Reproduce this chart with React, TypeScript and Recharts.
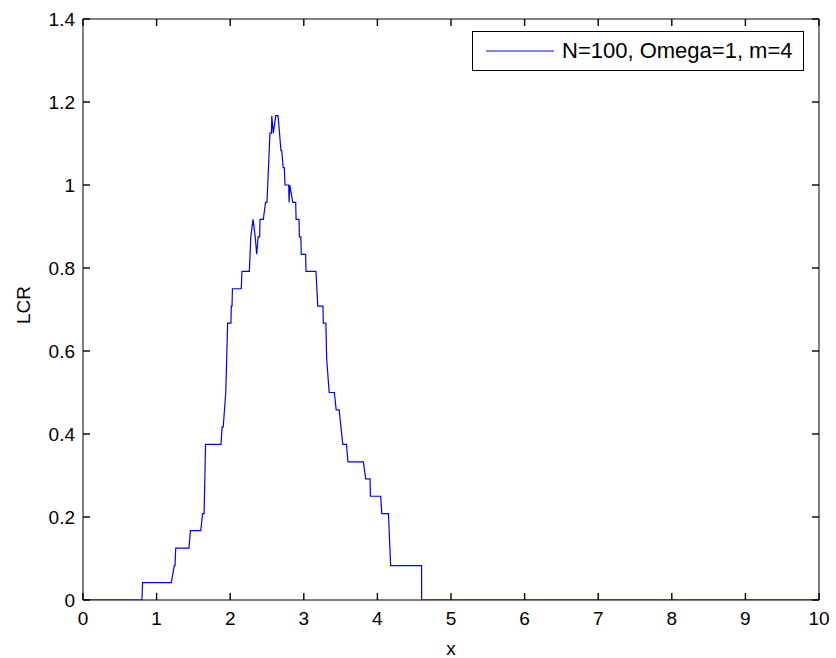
import { LineChart, Line, XAxis, YAxis } from 'recharts';

// sample points (x, LCR)
const xValues = [
  0, 0.8, 0.81, 1.2, 1.24, 1.25, 1.26, 1.44, 1.46, 1.6, 1.625, 1.645, 1.665, 1.875, 1.89, 1.905,
  1.94, 1.965, 2.01, 2.015, 2.025, 2.03, 2.15, 2.16, 2.26, 2.28, 2.31, 2.34, 2.36, 2.38, 2.4,
  2.405, 2.45, 2.48, 2.5, 2.54, 2.56, 2.565, 2.585, 2.62, 2.65, 2.67, 2.69, 2.7, 2.72, 2.735,
  2.745, 2.795, 2.8, 2.81, 2.85, 2.89, 2.895, 2.935, 2.94, 2.96, 2.965, 3.025, 3.03, 3.165,
  3.19, 3.26, 3.265, 3.3, 3.31, 3.345, 3.415, 3.44, 3.48, 3.53, 3.58, 3.6, 3.81, 3.84, 3.9,
  3.905, 4.045, 4.06, 4.15, 4.18, 4.6, 4.601, 10,
];
const lcrValues = [
  0, 0, 0.042, 0.042, 0.083, 0.083, 0.125, 0.125, 0.167, 0.167, 0.208, 0.208, 0.375, 0.375, 0.417, 0.417,
  0.5, 0.667, 0.667, 0.708, 0.708, 0.75, 0.75, 0.792, 0.792, 0.875, 0.917, 0.875, 0.833, 0.875, 0.875,
  0.917, 0.917, 0.958, 0.958, 1.125, 1.125, 1.167, 1.125, 1.167, 1.167, 1.125, 1.083, 1.083, 1.042, 1.042,
  1.0, 1.0, 0.958, 1.0, 0.958, 0.958, 0.917, 0.917, 0.875, 0.875, 0.833, 0.833, 0.792, 0.792,
  0.708, 0.708, 0.667, 0.667, 0.583, 0.5, 0.5, 0.458, 0.458, 0.375, 0.375, 0.333, 0.333, 0.292, 0.292,
  0.25, 0.25, 0.208, 0.208, 0.083, 0.083, 0, 0,
];

const xTicks = [0, 1, 2, 3, 4, 5, 6, 7, 8, 9, 10];
const yTicks = [0, 0.2, 0.4, 0.6, 0.8, 1, 1.2, 1.4];
const seriesName = 'N=100, Omega=1, m=4';

const data = xValues.map((x, i) => ({ x, lcr: lcrValues[i] }));

const FONT = '"Liberation Sans", Arial, sans-serif';
const TICK_LEN = 7;
const TICK_W = 1.4;
const BOTTOM_GAP = 12;
const LEFT_GAP = 8;

// matlab-style ticks: marks point into the plot, labels outside
const BottomTick = (props: any) => {
  const { x, y, payload } = props;
  const axisY = y - BOTTOM_GAP;
  return (
    <g>
      <line x1={x} y1={axisY} x2={x} y2={axisY - TICK_LEN} stroke="#000" strokeWidth={TICK_W} />
      <text x={x} y={y} dy="0.71em" textAnchor="middle" fontSize={19} fontFamily={FONT} fill="#000">
        {payload.value}
      </text>
    </g>
  );
};

const LeftTick = (props: any) => {
  const { x, y, payload } = props;
  const axisX = x + LEFT_GAP;
  return (
    <g>
      <line x1={axisX} y1={y} x2={axisX + TICK_LEN} y2={y} stroke="#000" strokeWidth={TICK_W} />
      <text x={x} y={y} dy="0.355em" textAnchor="end" fontSize={19} fontFamily={FONT} fill="#000">
        {payload.value}
      </text>
    </g>
  );
};

const TopTick = (props: any) => {
  const { x, y } = props;
  return <line x1={x} y1={y} x2={x} y2={y + TICK_LEN} stroke="#000" strokeWidth={TICK_W} />;
};

const RightTick = (props: any) => {
  const { x, y } = props;
  return <line x1={x} y1={y} x2={x - TICK_LEN} y2={y} stroke="#000" strokeWidth={TICK_W} />;
};

// legend drawn as an overlay so it does not eat plot space
function LegendBox() {
  return (
    <div
      style={{
        position: 'absolute',
        left: 472,
        top: 31,
        boxSizing: 'border-box',
        width: 332,
        height: 40,
        border: '1px solid #000',
        background: '#fff',
        display: 'flex',
        alignItems: 'center',
        fontFamily: FONT,
        fontSize: 22,
        color: '#000',
      }}
    >
      <svg width={68} height={4} style={{ marginLeft: 13, marginRight: 8 }}>
        <line x1={0} y1={2} x2={68} y2={2} stroke="#0000ff" strokeWidth={1} />
      </svg>
      <span style={{ whiteSpace: 'nowrap' }}>{seriesName}</span>
    </div>
  );
}

export default function App() {
  return (
    <div style={{ position: 'absolute', left: 0, top: 0, width: 836, height: 658, background: '#fff' }}>
      <LineChart
        width={836}
        height={658}
        data={data}
        margin={{ top: 18, right: 16, bottom: 0, left: 0 }}
      >
        <XAxis
          dataKey="x"
          type="number"
          domain={[0, 10]}
          ticks={xTicks}
          allowDataOverflow
          interval={0}
          height={58}
          stroke="#000"
          tickLine={false}
          tickSize={0}
          tickMargin={BOTTOM_GAP}
          tick={BottomTick}
          label={{
            content: () => (
              <text x={451} y={655} textAnchor="middle" fontSize={19} fontFamily={FONT} fill="#000">
                x
              </text>
            ),
          }}
        />
        <XAxis
          xAxisId="top"
          orientation="top"
          dataKey="x"
          type="number"
          domain={[0, 10]}
          ticks={xTicks}
          allowDataOverflow
          interval={0}
          height={1}
          stroke="#000"
          tickLine={false}
          tickSize={0}
          tickMargin={0}
          tick={TopTick}
        />
        <YAxis
          type="number"
          domain={[0, 1.4]}
          ticks={yTicks}
          allowDataOverflow
          interval={0}
          width={83}
          stroke="#000"
          tickLine={false}
          tickSize={0}
          tickMargin={LEFT_GAP}
          tick={LeftTick}
          label={{
            content: () => (
              <text
                x={30}
                y={305}
                transform="rotate(-90 30 305)"
                textAnchor="middle"
                fontSize={19}
                fontFamily={FONT}
                fill="#000"
              >
                LCR
              </text>
            ),
          }}
        />
        <YAxis
          yAxisId="right"
          orientation="right"
          type="number"
          domain={[0, 1.4]}
          ticks={yTicks}
          allowDataOverflow
          interval={0}
          width={1}
          stroke="#000"
          tickLine={false}
          tickSize={0}
          tickMargin={0}
          tick={RightTick}
        />
        <Line
          type="linear"
          dataKey="lcr"
          name={seriesName}
          stroke="#0000ff"
          strokeWidth={1.2}
          dot={false}
          activeDot={false}
          isAnimationActive={false}
        />
      </LineChart>
      <LegendBox />
    </div>
  );
}
